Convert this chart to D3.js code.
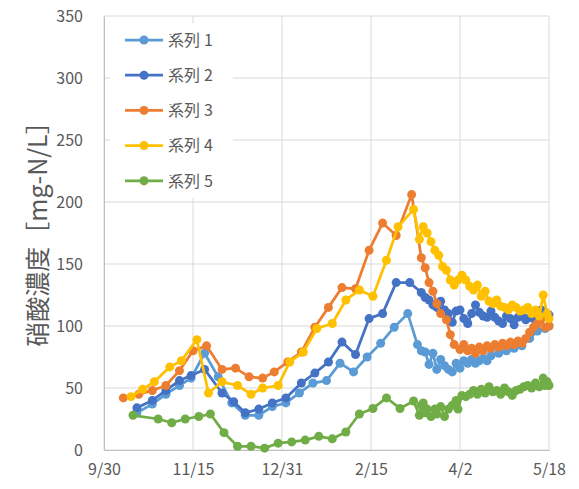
<!DOCTYPE html>
<html>
<head>
<meta charset="utf-8">
<script src="https://cdn.jsdelivr.net/npm/d3@7"></script>
<style>
  html, body { margin: 0; padding: 0; background: #fff; }
  svg { display: block; font-family: "Noto Sans CJK JP", "Noto Sans", sans-serif; }
</style>
</head>
<body>
<svg id="chart" width="579" height="489"></svg>
<script>
// ---- data ----
const startDate = "2018-09-30";
const tickDates = ["2018-09-30", "2018-11-15", "2018-12-31", "2019-02-15", "2019-04-02", "2019-05-18"];
const yTicks = [0, 50, 100, 150, 200, 250, 300, 350];
const seriesNames = ["系列1", "系列2", "系列3", "系列4", "系列5"];
const seriesColors = ["#5B9BD5", "#4472C4", "#ED7D31", "#FFC000", "#70AD47"];
const yTitle = "硝酸濃度［mg-N/L］";

// days since startDate
const days1 = [17,25,32,39,45,52,59,66,73,80,87,94,101,108,115,122,129,136,143,150,157,162,164,166,168,170,172,174,176,178,180,182,184,186,188,190,192,194,196,198,200,204,208,212,216,220,224,228,230];
const vals1 = [30,37,45,52,58,78,59,38,28,28,35,38,46,54,56,70,63,75,86,99,110,85,80,79,69,78,65,73,68,65,63,70,66,72,70,73,70,72,74,72,76,78,80,82,84,90,96,98,100];

const days2 = [17,25,32,39,45,52,61,67,73,80,87,94,102,109,116,123,130,137,144,151,158,164,166,168,170,172,174,176,178,180,182,184,186,188,190,192,194,196,198,200,202,204,206,208,210,212,214,216,218,220,222,224,226,228,230];
const vals2 = [34,40,48,56,60,65,46,39,30,33,38,42,54,62,71,87,77,106,110,135,135,127,123,121,117,115,120,113,110,103,112,113,106,102,110,117,111,108,107,112,107,104,102,108,106,101,107,108,105,107,106,108,113,111,109];

const days3 = [10,18,25,32,39,46,53,61,68,75,82,88,95,102,109,116,123,130,137,144,151,159,164,166,168,170,172,174,177,179,181,184,186,188,190,192,194,196,198,200,202,204,206,208,210,212,214,216,218,220,222,224,226,228,230];
const vals3 = [42,45,48,52,64,80,84,65,66,59,58,63,71,79,99,115,131,130,161,183,173,206,155,147,135,128,118,110,105,93,85,81,85,80,82,78,83,80,84,82,85,83,86,84,87,85,88,86,90,95,99,102,106,99,100];

const days4 = [14,20,26,34,40,48,54,61,69,76,82,90,96,103,110,118,125,132,139,146,152,160,163,165,167,169,171,173,175,177,179,181,183,185,187,189,191,193,195,197,199,201,203,205,207,209,211,213,215,217,219,221,223,225,227,229,230];
const vals4 = [43,49,55,67,72,89,46,55,52,45,50,52,71,79,98,102,121,129,124,153,180,194,170,180,175,168,161,157,148,145,137,133,137,141,137,132,129,133,124,128,120,118,121,116,115,113,117,115,112,113,115,110,113,108,125,110,106];

const days5 = [15,28,35,42,49,55,62,69,76,83,90,97,104,111,118,125,132,139,146,153,160,163,164,165,166,167,169,171,172,174,176,178,180,182,183,185,187,189,191,193,195,197,199,201,203,205,207,209,211,213,215,217,219,221,223,225,227,228,229,230];
const vals5 = [28,25,22,25,27,29,14,3,3,1.5,5.5,6.5,8,11,9,14.5,29,33.5,42,33.5,39.5,28,36,38,30,33,27,33,29,35,27,33,36,40,33,44,43,45,48,45,49,46,51,47,48,45,50,47,44,48,49,51,52,50,54,51,58,52,55,52];

const allDays = [days1, days2, days3, days4, days5];
const allVals = [vals1, vals2, vals3, vals4, vals5];

// ---- layout ----
const margin = { left: 104, right: 30, top: 16, bottom: 39 };
const W = 579, H = 489;
const svg = d3.select("#chart");
svg.append("rect").attr("width", W).attr("height", H).attr("fill", "#fff");

const parse = d3.timeParse("%Y-%m-%d");
const base = parse(startDate);
const ticks = tickDates.map(parse);

const x = d3.scaleTime()
  .domain([ticks[0], ticks[ticks.length - 1]])
  .range([margin.left, W - margin.right]);
const y = d3.scaleLinear()
  .domain([0, 350])
  .range([H - margin.bottom, margin.top]);

// gridlines
const grid = svg.append("g");
grid.selectAll("line.h").data(yTicks).join("line")
  .attr("x1", margin.left).attr("x2", W - margin.right)
  .attr("y1", d => y(d)).attr("y2", d => y(d))
  .attr("stroke", "#D9D9D9").attr("stroke-width", 1);
grid.selectAll("line.v").data(ticks).join("line")
  .attr("x1", d => x(d)).attr("x2", d => x(d))
  .attr("y1", margin.top).attr("y2", H - margin.bottom)
  .attr("stroke", "#D9D9D9").attr("stroke-width", 1);

// axes
const xAxis = svg.append("g")
  .attr("transform", `translate(0,${H - margin.bottom})`)
  .call(d3.axisBottom(x).tickValues(ticks).tickFormat(d3.timeFormat("%-m/%-d")).tickSize(0).tickPadding(14));
xAxis.select(".domain").attr("stroke", "#BFBFBF");
xAxis.selectAll("text").attr("fill", "#595959").style("font-size", "16px")
  .style("font-family", "'Noto Sans CJK JP', sans-serif");

const yAxis = svg.append("g")
  .attr("transform", `translate(${margin.left},0)`)
  .call(d3.axisLeft(y).tickValues(yTicks).tickSize(0).tickPadding(21));
yAxis.select(".domain").attr("stroke", "#BFBFBF");
yAxis.selectAll("text").attr("fill", "#595959").style("font-size", "16px")
  .style("font-family", "'Noto Sans CJK JP', sans-serif");

// y title
svg.append("text")
  .attr("transform", `translate(47,228) rotate(-90)`)
  .attr("text-anchor", "middle")
  .attr("fill", "#595959")
  .style("font-size", "25px")
  .text(yTitle);

// series
const line = d3.line().x(d => x(d[0])).y(d => y(d[1]));
allDays.forEach((ds, i) => {
  const pts = ds.map((d, j) => [d3.timeDay.offset(base, d), allVals[i][j]]);
  const g = svg.append("g");
  g.append("path").datum(pts)
    .attr("d", line)
    .attr("fill", "none")
    .attr("stroke", seriesColors[i])
    .attr("stroke-width", 2.75)
    .attr("stroke-linejoin", "round");
  g.selectAll("circle").data(pts).join("circle")
    .attr("cx", d => x(d[0])).attr("cy", d => y(d[1]))
    .attr("r", 4.5)
    .attr("fill", seriesColors[i]);
});

// legend
const lg = svg.append("g");
lg.append("rect").attr("x", 110).attr("y", 23).attr("width", 123).attr("height", 175).attr("fill", "#fff");
seriesNames.forEach((name, i) => {
  const cy = 40 + i * 35.2;
  lg.append("line").attr("x1", 125).attr("x2", 163).attr("y1", cy).attr("y2", cy)
    .attr("stroke", seriesColors[i]).attr("stroke-width", 2.75);
  lg.append("circle").attr("cx", 144).attr("cy", cy).attr("r", 4.5).attr("fill", seriesColors[i]);
  const t = lg.append("text").attr("x", 168).attr("y", cy).attr("dy", "0.36em")
    .attr("fill", "#595959").style("font-size", "16px");
  t.append("tspan").text(name.slice(0, 2));
  t.append("tspan").attr("dx", 4).text(name.slice(2));
});
</script>
</body>
</html>
